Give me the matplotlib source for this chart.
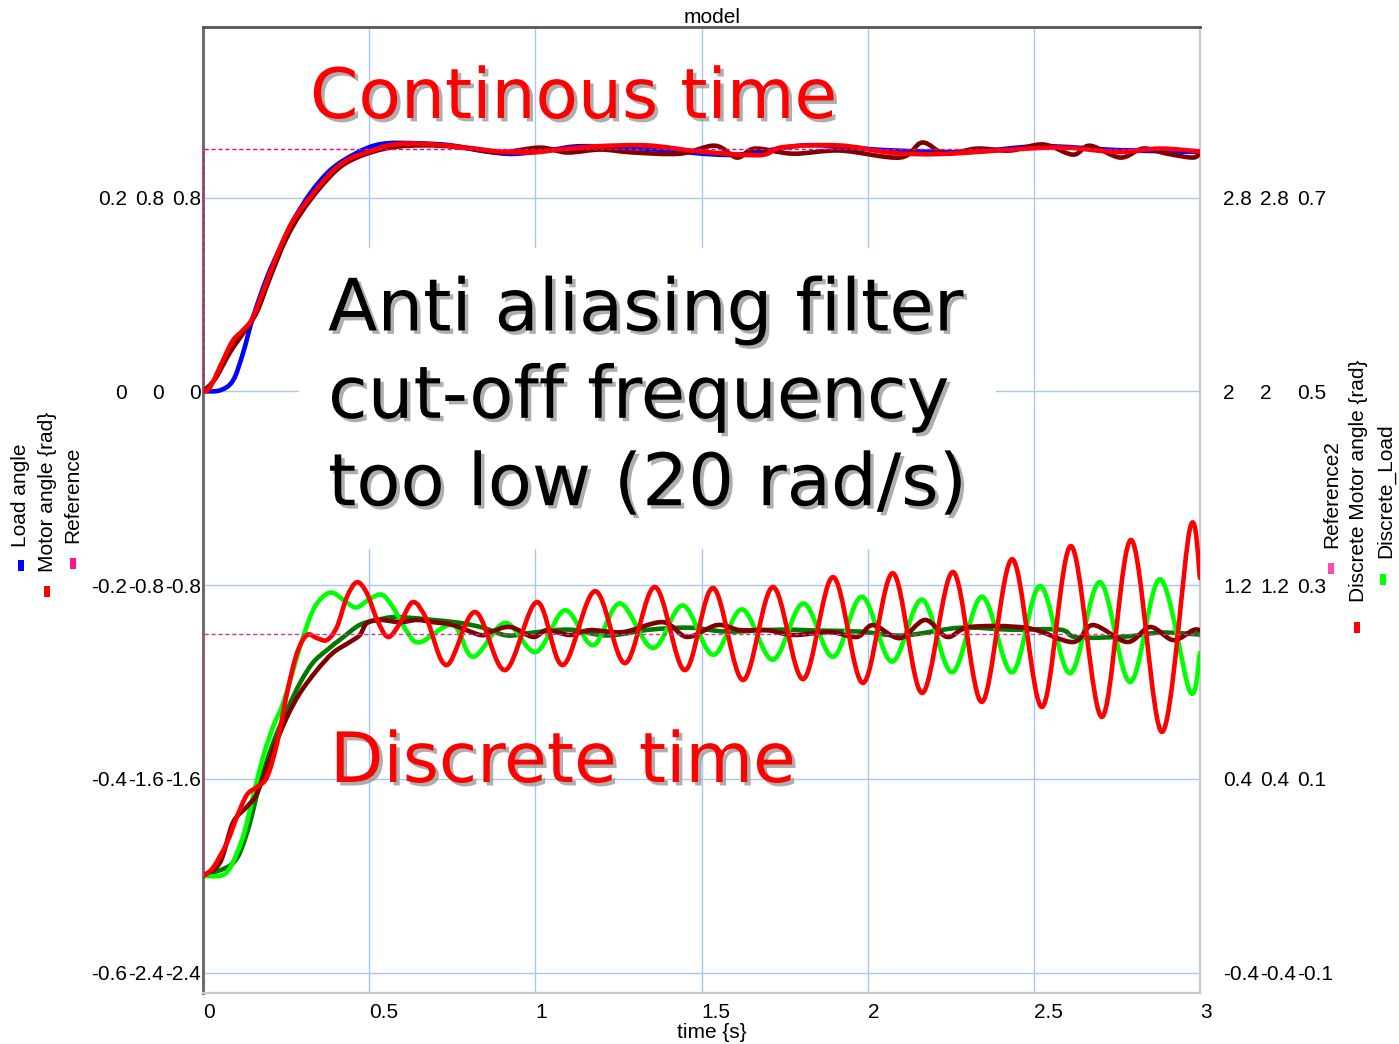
import numpy as np
import matplotlib
matplotlib.use("Agg")
import matplotlib.pyplot as plt
import matplotlib.patheffects as pe
from matplotlib.path import Path
from matplotlib.patches import PathPatch, Rectangle

# ---------------------------------------------------------------------------
# Data (time in s, angles in each signal's own axis units)
# ---------------------------------------------------------------------------

time_ticks = [0, 0.5, 1, 1.5, 2, 2.5, 3]
time_labels = ["0", "0.5", "1", "1.5", "2", "2.5", "3"]

load_ticks = [-0.6, -0.4, -0.2, 0, 0.2]
load_labels = ["-0.6", "-0.4", "-0.2", "0", "0.2"]
motor_ticks = [-2.4, -1.6, -0.8, 0, 0.8]
motor_labels = ["-2.4", "-1.6", "-0.8", "0", "0.8"]
ref2_ticks = [-0.4, 0.4, 1.2, 2, 2.8]
ref2_labels = ["-0.4", "0.4", "1.2", "2", "2.8"]
dload_ticks = [-0.1, 0.1, 0.3, 0.5, 0.7]
dload_labels = ["-0.1", "0.1", "0.3", "0.5", "0.7"]

# continuous time simulation
load_t = [0, 0.051, 0.090, 0.120, 0.150, 0.193, 0.232, 0.271, 0.322, 0.373,
          0.421, 0.493, 0.554, 0.644, 0.743, 0.843, 0.933, 1.044, 1.144, 1.35,
          1.595, 1.818, 2.05, 2.3, 2.519, 2.75, 3.0]
load_v = [0, 0.001, 0.011, 0.039, 0.076, 0.118, 0.148, 0.176, 0.204, 0.225,
          0.238, 0.251, 0.256, 0.256, 0.254, 0.248, 0.245, 0.249, 0.253, 0.250,
          0.244, 0.254, 0.249, 0.247, 0.253, 0.249, 0.247]

motor_t = [0, 0.021, 0.060, 0.090, 0.120, 0.150, 0.193, 0.232, 0.271, 0.331,
           0.391, 0.442, 0.493, 0.554, 0.614, 0.692, 0.794, 0.894, 0.993, 1.095,
           1.189, 1.339, 1.496, 1.676, 1.745, 1.917, 2.076, 2.227, 2.480, 2.600,
           2.750, 2.880, 3.0]
motor_v = [0, 0.016, 0.128, 0.210, 0.252, 0.305, 0.458, 0.594, 0.705, 0.816,
           0.911, 0.961, 0.986, 1.014, 1.023, 1.019, 1.006, 0.990, 0.986, 1.002,
           1.012, 1.015, 0.990, 0.975, 1.008, 1.015, 0.984, 0.980, 1.002, 1.006,
           0.988, 1.002, 0.990]

motor_f_t = [0, 0.036, 0.081, 0.126, 0.163, 0.202, 0.247, 0.292, 0.352, 0.412,
             0.472, 0.548, 0.623, 0.713, 0.803, 0.894, 1.014, 1.095, 1.195, 1.294,
             1.435, 1.541, 1.607, 1.661, 1.776, 1.917, 2.097, 2.164, 2.233, 2.329,
             2.429, 2.528, 2.618, 2.669, 2.760, 2.829, 2.901, 2.979, 3.0]
motor_f_v = [0, 0.050, 0.160, 0.250, 0.330, 0.470, 0.620, 0.730, 0.840, 0.925,
             0.970, 1.002, 1.014, 1.014, 1.002, 0.986, 1.006, 0.986, 0.998, 0.986,
             0.981, 1.014, 0.965, 1.002, 0.981, 0.994, 0.965, 1.027, 0.981, 1.002,
             0.994, 1.019, 0.977, 1.014, 0.965, 1.002, 0.981, 0.965, 0.986]

ref_t = [0, 0, 3]
ref_v = [0, 1.0, 1.0]

# discrete time simulation
dload_t = [0, 0.051, 0.081, 0.120, 0.150, 0.181, 0.211, 0.241, 0.271, 0.301,
           0.331, 0.361, 0.391, 0.433, 0.463, 0.503, 0.539, 0.572, 0.614, 0.653,
           0.752, 0.813, 0.909, 1.002, 1.089, 1.174, 1.255, 1.354, 1.444, 1.535,
           1.622, 1.715, 1.806, 1.896, 1.983, 2.073, 2.164, 2.254, 2.344, 2.435,
           2.519, 2.609, 2.699, 2.790, 2.880, 2.970, 3.0]
dload_v = [0, 0, 0.008, 0.040, 0.081, 0.123, 0.154, 0.178, 0.212, 0.246,
           0.274, 0.288, 0.292, 0.282, 0.277, 0.286, 0.290, 0.277, 0.252, 0.241,
           0.259, 0.226, 0.261, 0.231, 0.274, 0.238, 0.281, 0.235, 0.279, 0.228,
           0.275, 0.223, 0.281, 0.226, 0.288, 0.221, 0.285, 0.210, 0.288, 0.210,
           0.299, 0.209, 0.303, 0.200, 0.306, 0.190, 0.230]

dmotor_t = [0, 0.030, 0.072, 0.102, 0.132, 0.163, 0.193, 0.223, 0.253, 0.283,
            0.313, 0.343, 0.373, 0.403, 0.433, 0.463, 0.493, 0.524, 0.557, 0.593,
            0.632, 0.674, 0.734, 0.819, 0.909, 1.005, 1.083, 1.180, 1.270, 1.360,
            1.450, 1.535, 1.625, 1.715, 1.806, 1.896, 1.986, 2.076, 2.164, 2.257,
            2.344, 2.435, 2.525, 2.612, 2.705, 2.793, 2.886, 2.970, 3.0]
dmotor_v = [0, 0.033, 0.136, 0.243, 0.334, 0.367, 0.408, 0.548, 0.755, 0.920,
            0.994, 0.981, 0.973, 1.027, 1.151, 1.212, 1.167, 1.056, 0.986, 1.043,
            1.130, 1.056, 0.870, 1.089, 0.849, 1.130, 0.870, 1.175, 0.878, 1.192,
            0.849, 1.188, 0.808, 1.192, 0.812, 1.233, 0.796, 1.249, 0.755, 1.254,
            0.718, 1.307, 0.697, 1.361, 0.656, 1.386, 0.594, 1.435, 1.229]

dload_f_t = [0, 0.090, 0.132, 0.172, 0.211, 0.253, 0.292, 0.331, 0.373, 0.421,
             0.472, 0.524, 0.572, 0.632, 0.692, 0.773, 0.843, 0.915, 0.993, 1.104,
             1.216, 1.345, 1.466, 1.577, 1.736, 1.857, 1.977, 2.107, 2.278, 2.429,
             2.579, 2.630, 2.781, 2.880, 3.0]
dload_f_v = [0, 0.013, 0.044, 0.096, 0.137, 0.171, 0.199, 0.220, 0.233, 0.246,
             0.259, 0.264, 0.267, 0.266, 0.264, 0.261, 0.256, 0.248, 0.251, 0.254,
             0.248, 0.254, 0.256, 0.252, 0.254, 0.253, 0.252, 0.248, 0.256, 0.254,
             0.254, 0.246, 0.247, 0.251, 0.249]

dmotor_f_t = [0, 0.051, 0.090, 0.132, 0.163, 0.211, 0.253, 0.292, 0.343, 0.391,
              0.442, 0.472, 0.493, 0.533, 0.593, 0.644, 0.692, 0.752, 0.834, 0.864,
              0.924, 0.993, 1.035, 1.104, 1.165, 1.264, 1.384, 1.457, 1.547, 1.616,
              1.697, 1.776, 1.887, 1.968, 2.016, 2.097, 2.173, 2.239, 2.308, 2.480,
              2.618, 2.678, 2.781, 2.850, 2.919, 2.979, 3.0]
dmotor_f_v = [0, 0.054, 0.219, 0.285, 0.342, 0.520, 0.656, 0.755, 0.849, 0.920,
              0.965, 0.994, 1.043, 1.056, 1.047, 1.056, 1.047, 1.035, 0.994, 1.006,
              1.027, 0.986, 1.014, 0.994, 1.014, 1.006, 1.047, 0.986, 1.035, 1.014,
              1.014, 0.994, 1.006, 0.986, 1.035, 0.981, 1.056, 0.986, 1.027, 1.023,
              0.965, 1.035, 0.965, 1.027, 0.973, 1.014, 1.014]

ref2_t = [0, 0, 3]
ref2_v = [0, 1.0, 1.0]

# axis ranges (each signal has its own scale, as in the original tool)
LOAD_LIM = (-0.621, 0.376)
MOTOR_LIM = (-2.484, 1.504)
REF2_LIM = (-0.484, 3.504)
DLOAD_LIM = (-0.121, 0.876)

W, H = 1399, 1044


def fx(px):
    return px / W


def fy(py):
    return 1 - py / H


def smooth(a, t, v, **kw):
    """Draw a smooth curve through the points (Catmull-Rom as Bezier path)."""
    pts = np.column_stack([t, v]).astype(float)
    p = np.vstack([pts[0], pts, pts[-1]])
    verts, codes = [pts[0]], [Path.MOVETO]
    for i in range(1, len(p) - 2):
        verts += [p[i] + (p[i + 1] - p[i - 1]) / 6,
                  p[i + 1] - (p[i + 2] - p[i]) / 6,
                  p[i + 1]]
        codes += [Path.CURVE4] * 3
    a.add_patch(PathPatch(Path(verts, codes), fill=False, capstyle="round",
                          joinstyle="round", **kw))


plt.rcParams.update({
    "font.family": ["Liberation Sans", "DejaVu Sans"],
    "font.size": 15,
})

fig = plt.figure(figsize=(W / 100, H / 100), dpi=100)
ax = fig.add_axes([fx(203), fy(993), fx(1200) - fx(203), fy(27) - fy(993)])
ax.set_xlim(0, 3)
ax.set_ylim(*LOAD_LIM)
ax.set_axisbelow(True)
ax.grid(True, color="#aac8ee", linewidth=1.0)
ax.set_xticks(time_ticks, time_labels)
for lbl in ax.get_xticklabels():
    lbl.set_horizontalalignment("left")
ax.tick_params(axis="x", length=0, pad=7)
ax.set_yticks(load_ticks, load_labels)
ax.tick_params(axis="y", length=0, pad=76 * 0.72)
ax.spines["left"].set(color="#6e6e6e", linewidth=2.2)
ax.spines["top"].set(color="#555555", linewidth=2.0)
ax.spines["bottom"].set(color="#c8c8c8", linewidth=1.6)
ax.spines["right"].set(color="#c8c8c8", linewidth=1.6)
ax.set_title("model", fontsize=15, pad=3, x=0.5105)
ax.set_xlabel("time {s}", fontsize=15)
ax.xaxis.set_label_coords(0.5105, -0.031)


def overlay(lim, ticks, labels, side, pad_px):
    a = ax.twinx()
    a.set_ylim(*lim)
    a.set_yticks(ticks, labels)
    if side == "left":
        a.yaxis.tick_left()
    a.tick_params(axis="y", length=0, pad=pad_px * 0.72)
    for s in a.spines.values():
        s.set_visible(False)
    return a


ax_motor = overlay(MOTOR_LIM, motor_ticks, motor_labels, "left", 39)
ax_ref = overlay(MOTOR_LIM, motor_ticks, motor_labels, "left", 2)
ax_dload = overlay(DLOAD_LIM, dload_ticks, dload_labels, "right", 97)
ax_dmotor = overlay(REF2_LIM, ref2_ticks, ref2_labels, "right", 60)
ax_ref2 = overlay(REF2_LIM, ref2_ticks, ref2_labels, "right", 23)

LW = 3.3
smooth(ax, load_t, load_v, color="#0000ff", lw=LW, zorder=2)
smooth(ax_motor, motor_f_t, motor_f_v, color="#800000", lw=LW)
smooth(ax_motor, motor_t, motor_v, color="#ff0000", lw=LW)
ax_ref.plot(ref_t, ref_v, color="#ff0080", lw=1.0, dashes=(3, 2))

smooth(ax_dload, dload_f_t, dload_f_v, color="#007a00", lw=LW)
smooth(ax_dload, dload_t, dload_v, color="#00ff00", lw=LW)
smooth(ax_dmotor, dmotor_f_t, dmotor_f_v, color="#800000", lw=LW)
smooth(ax_dmotor, dmotor_t, dmotor_v, color="#ff0000", lw=LW)
ax_ref2.plot(ref2_t, ref2_v, color="#d03a96", lw=1.0, dashes=(3, 2))

for a in (ax, ax_motor, ax_ref, ax_dload, ax_dmotor, ax_ref2):
    a.set_xlim(0, 3)
ax.set_ylim(*LOAD_LIM)

# annotations
shadow = [pe.withSimplePatchShadow(offset=(2.5, -2.5), shadow_rgbFace="#9a9a9a",
                                   alpha=0.8)]
ax.text(0.1073, 0.9058, "Continous time", transform=ax.transAxes,
        fontsize=50, family="DejaVu Sans", color="#ff0000",
        ha="left", va="baseline", path_effects=shadow, zorder=1.5)
ax.text(0.1274, 0.2184, "Discrete time", transform=ax.transAxes,
        fontsize=50, family="DejaVu Sans", color="#ff0000",
        ha="left", va="baseline", path_effects=shadow, zorder=1.5)
# multi-line text: the baseline given here is that of the last line
ax.text(0.1254, 0.505,
        "Anti aliasing filter\ncut-off frequency\ntoo low (20 rad/s)",
        transform=ax.transAxes, fontsize=52, family="DejaVu Sans",
        color="black", ha="left", va="baseline", linespacing=1.34,
        path_effects=shadow, zorder=1.5,
        bbox=dict(boxstyle="square,pad=0.4", facecolor="white",
                  edgecolor="none"))

# rotated legends at both sides
legend_left = [("Load angle", 21, 547, 18, 560, "#0000ff"),
               ("Motor angle {rad}", 48, 572, 44, 586, "#ff0000"),
               ("Reference", 73, 543, 70, 558, "#ff1493")]
legend_right = [("Reference2", 1332, 548, 1328, 563, "#ff4da6"),
                ("Discrete Motor angle {rad}", 1358, 602, 1354, 622, "#ff0000"),
                ("Discrete_Load", 1386, 558, 1380, 574, "#00ff00")]
for label, tx, ty, mx, my, col in legend_left + legend_right:
    fig.text(fx(tx), fy(ty), label, rotation=90, ha="center", va="bottom",
             fontsize=15)
    fig.add_artist(Rectangle((fx(mx), fy(my + 11)), 6 / W, 11 / H,
                             transform=fig.transFigure, facecolor=col,
                             edgecolor="none"))

fig.savefig("out.png", dpi=100, facecolor="white")
